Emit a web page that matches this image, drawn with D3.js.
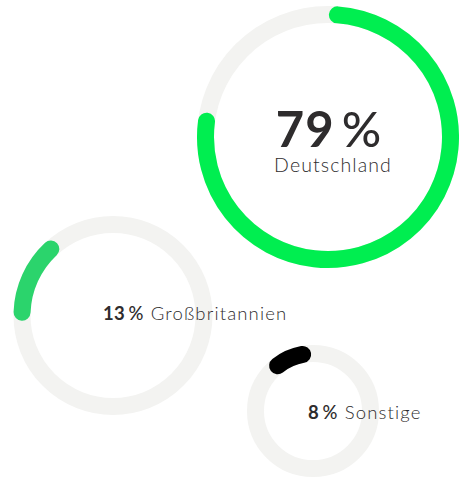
<!DOCTYPE html>
<html lang="de">
<head>
    <meta charset="UTF-8">
    <title>Anteile nach Land</title>
    <script src="https://d3js.org/d3.v7.min.js"></script>
    <style>
        body { margin: 0; background: #fff; }
        text { font-family: Lato, "Open Sans", sans-serif; fill: #2e2c2d; }
    </style>
</head>
<body>
    <svg id="chart" width="459" height="478"></svg>

    <script>
        // data
        const labels = ["Deutschland", "Großbritannien", "Sonstige"];
        const shares = [79, 13, 8];

        const width = 459;
        const height = 478;
        const svg = d3.select("#chart");

        // ring layout (centre, radius, start of the arc in degrees from 12 o'clock)
        const rings = [
            { cx: 328, cy: 137, r: 122.5, start: 4.4, color: "#00ee50" },
            { cx: 113, cy: 315.5, r: 91, start: -88, color: "#2bd46c" },
            { cx: 313, cy: 411, r: 57.5, start: -38, color: "#000000" }
        ];
        const strokeW = 17;

        // percentage -> angle (the arcs in the source run a bit short of a full circle)
        const angle = d3.scaleLinear().domain([0, 100]).range([0, 2 * Math.PI * 0.96]);

        const toRad = deg => deg * Math.PI / 180;

        function arcPath(cx, cy, r, a0, a1) {
            // a0/a1 measured clockwise from 12 o'clock
            const p = d3.path();
            p.moveTo(cx + r * Math.sin(a0), cy - r * Math.cos(a0));
            p.arc(cx, cy, r, a0 - Math.PI / 2, a1 - Math.PI / 2, false);
            return p.toString();
        }

        const data = labels.map((d, i) => ({ label: d, value: shares[i], ring: rings[i] }));

        const g = svg.append("g");

        // background tracks
        g.selectAll("circle.track")
            .data(data)
            .join("circle")
            .attr("class", "track")
            .attr("cx", d => d.ring.cx)
            .attr("cy", d => d.ring.cy)
            .attr("r", d => d.ring.r)
            .attr("fill", "none")
            .attr("stroke", "#f3f3f1")
            .attr("stroke-width", strokeW);

        // value arcs
        g.selectAll("path.value")
            .data(data)
            .join("path")
            .attr("class", "value")
            .attr("d", d => {
                const a0 = toRad(d.ring.start);
                return arcPath(d.ring.cx, d.ring.cy, d.ring.r, a0, a0 + angle(d.value));
            })
            .attr("fill", "none")
            .attr("stroke", d => d.ring.color)
            .attr("stroke-width", strokeW)
            .attr("stroke-linecap", "round");

        // big label (first ring)
        const big = data[0];
        const bigNum = svg.append("text")
            .attr("x", big.ring.cx + 1)
            .attr("y", 147)
            .attr("text-anchor", "middle")
            .style("font-size", "49px")
            .style("letter-spacing", "1px")
            .style("font-weight", 700);
        bigNum.append("tspan").text(big.value);
        bigNum.append("tspan").style("font-weight", 500).text("\u2009%");

        svg.append("text")
            .attr("x", big.ring.cx + 5)
            .attr("y", 172)
            .attr("text-anchor", "middle")
            .style("font-size", "19.5px")
            .style("letter-spacing", "1.1px")
            .style("font-weight", 300)
            .text(big.label);

        // inline labels for the smaller rings
        const inlinePos = [null, { x: 103, y: 320 }, { x: 308, y: 419 }];
        data.slice(1).forEach((d, i) => {
            const pos = inlinePos[i + 1];
            const t = svg.append("text")
                .attr("x", pos.x)
                .attr("y", pos.y)
                .style("font-size", "18.5px")
                .style("letter-spacing", "1.15px");
            t.append("tspan").style("font-weight", 700).style("letter-spacing", "0.3px").text(d.value);
            t.append("tspan").style("font-weight", 500).text("\u2009%");
            t.append("tspan").style("font-weight", 300).text(" " + d.label);
        });
    </script>
</body>
</html>
